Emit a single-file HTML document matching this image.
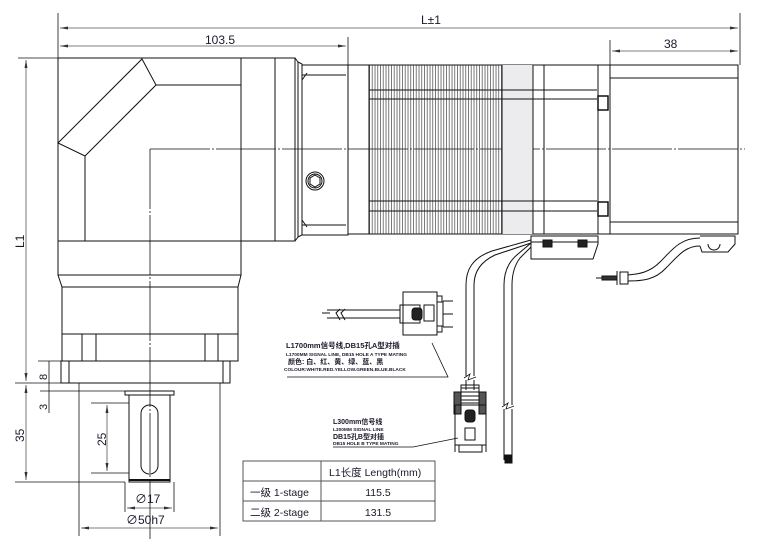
<!DOCTYPE html>
<html><head><meta charset="utf-8"><style>
html,body{margin:0;padding:0;background:#fff;}
svg{display:block;}
text{font-family:"Liberation Sans","Noto Sans CJK SC",sans-serif;fill:#1a1a2a;}
</style></head><body>
<svg width="759" height="550" viewBox="0 0 759 550" xmlns="http://www.w3.org/2000/svg">
<defs>
<pattern id="fins" x="369" y="0" width="2.75" height="10" patternUnits="userSpaceOnUse">
<line x1="0.5" y1="0" x2="0.5" y2="10" stroke="#222" stroke-width="0.6"/>
</pattern>
<marker id="ar" markerWidth="8" markerHeight="6" refX="8" refY="3" orient="auto" markerUnits="userSpaceOnUse"><path d="M0,1.5 L8,3 L0,4.5z" fill="#333"/></marker>
<marker id="al" markerWidth="8" markerHeight="6" refX="0" refY="3" orient="auto" markerUnits="userSpaceOnUse"><path d="M8,1.5 L0,3 L8,4.5z" fill="#333"/></marker>
</defs>
<g fill="none" stroke="#111" stroke-width="1">
<line x1="58" y1="13" x2="58" y2="58" stroke-width="0.8"/>
<line x1="740" y1="13" x2="740" y2="65" stroke-width="0.8"/>
<line x1="60" y1="28" x2="738" y2="28" stroke="#555" stroke-width="0.8" marker-start="url(#al)" marker-end="url(#ar)"/>
<line x1="348" y1="37" x2="348" y2="65" stroke-width="0.8"/>
<line x1="60" y1="46" x2="346" y2="46" stroke="#555" stroke-width="0.8" marker-start="url(#al)" marker-end="url(#ar)"/>
<line x1="610" y1="40" x2="610" y2="65" stroke-width="0.8"/>
<line x1="612" y1="51" x2="738" y2="51" stroke="#555" stroke-width="0.8" marker-start="url(#al)" marker-end="url(#ar)"/>
<line x1="18" y1="58" x2="58" y2="58" stroke-width="0.8"/>
<line x1="26" y1="60" x2="26" y2="381" stroke="#555" stroke-width="0.8" marker-start="url(#al)" marker-end="url(#ar)"/>
<line x1="15" y1="383" x2="62" y2="383" stroke-width="0.8"/>
<line x1="26" y1="385" x2="26" y2="480" stroke="#555" stroke-width="0.8" marker-start="url(#al)" marker-end="url(#ar)"/>
<line x1="15" y1="482" x2="125" y2="482" stroke-width="0.8"/>
<line x1="38" y1="361" x2="61" y2="361" stroke-width="0.8"/>
<line x1="49" y1="361" x2="49" y2="383" stroke-width="0.8"/>
<line x1="40" y1="391" x2="125" y2="391" stroke-width="0.8"/>
<line x1="49" y1="383" x2="49" y2="413" stroke-width="0.8"/>
<rect x="58" y="58" width="183" height="183"/>
<path d="M58,143 L142,59 L156,85 L85,156 Z" fill="#fff"/>
<line x1="156" y1="85" x2="241" y2="85"/>
<line x1="85" y1="156" x2="85" y2="241"/>
<rect x="241" y="58" width="54" height="183"/>
<line x1="275" y1="58" x2="275" y2="241"/>
<path d="M295,58 L298,62 L298,237 L295,241"/>
<path d="M298,62 L302,64 L302,235 L298,237"/>
<rect x="302" y="65" width="46" height="170"/>
<line x1="302" y1="75" x2="346" y2="75"/>
<line x1="302" y1="225" x2="346" y2="225"/>
<path d="M302,80 L307,73 M302,220 L307,227"/>
<circle cx="315" cy="181" r="9"/><circle cx="315" cy="181" r="7"/>
<path d="M315,175 L320,178 L320,184 L315,187 L310,184 L310,178Z"/>
<rect x="58" y="241" width="183" height="34"/>
<path d="M58,275 L62,287 L238,287 L241,275"/>
<rect x="62" y="287" width="176" height="74"/>
<line x1="62" y1="334" x2="238" y2="334"/>
<line x1="82" y1="334" x2="82" y2="361"/><line x1="96" y1="334" x2="96" y2="361"/>
<line x1="205" y1="334" x2="205" y2="361"/><line x1="218" y1="334" x2="218" y2="361"/>
<rect x="61" y="361" width="169" height="22"/>
<line x1="69" y1="361" x2="69" y2="383"/><line x1="223" y1="361" x2="223" y2="383"/>
<line x1="79" y1="383" x2="79" y2="536" stroke-width="0.8"/>
<line x1="220" y1="383" x2="220" y2="536" stroke-width="0.8"/>
<rect x="125" y="391" width="49" height="4"/>
<rect x="129" y="395" width="41" height="87"/>
<line x1="129" y1="480" x2="170" y2="480" stroke-width="2"/>
<rect x="141" y="405" width="17" height="69" rx="8.5"/>
<line x1="91" y1="403" x2="129" y2="403" stroke-width="0.8"/>
<line x1="91" y1="473" x2="129" y2="473" stroke-width="0.8"/>
<line x1="107" y1="405" x2="107" y2="471" stroke="#555" stroke-width="0.8" marker-start="url(#al)" marker-end="url(#ar)"/>
<line x1="125" y1="482" x2="125" y2="512" stroke-width="0.8"/>
<line x1="174" y1="482" x2="174" y2="512" stroke-width="0.8"/>
<line x1="127" y1="508" x2="172" y2="508" stroke="#555" stroke-width="0.8" marker-start="url(#al)" marker-end="url(#ar)"/>
<line x1="81" y1="528" x2="218" y2="528" stroke="#555" stroke-width="0.8" marker-start="url(#al)" marker-end="url(#ar)"/>
<line x1="150" y1="149" x2="150" y2="540" stroke-width="0.8" stroke-dasharray="60,2,2,2"/>
<line x1="150" y1="149" x2="745" y2="149" stroke-width="0.8" stroke-dasharray="60,2,2,2"/>
<rect x="348" y="65" width="250" height="169"/>
<rect x="369" y="65" width="133" height="169" fill="url(#fins)" stroke="none"/>
<rect x="502" y="65" width="31" height="169" fill="#ececee" stroke="none"/>
<line x1="369" y1="65" x2="369" y2="234"/>
<line x1="502" y1="65" x2="502" y2="234"/>
<line x1="533" y1="65" x2="533" y2="234"/>
<line x1="544" y1="65" x2="544" y2="234"/>
<path d="M369,90 L597,90 M369,99 L597,99 M369,201 L597,201 M369,211 L597,211"/>
<rect x="598" y="65" width="12" height="169"/>
<rect x="598" y="96" width="10" height="14" fill="#fff" stroke-width="1.5"/>
<rect x="598" y="202" width="10" height="14" fill="#fff" stroke-width="1.5"/>
<rect x="610" y="65" width="128" height="169"/>
<line x1="610" y1="78" x2="738" y2="78"/>
<line x1="610" y1="222" x2="738" y2="222"/>
<path d="M531,236 L598,236 L598,244 L593,259 L531,259 Z"/>
<line x1="531" y1="242" x2="598" y2="242"/>
<rect x="543" y="240" width="9" height="7" fill="#222"/>
<rect x="578" y="240" width="9" height="7" fill="#222"/>
<path d="M531,240 L492,251 C472,258 466,270 466,285 L466,376"/>
<path d="M531,243 L495,255 C480,262 474,272 474,285 L474,376"/>
<path d="M531,243 L518,254 C508,262 504,272 504,285 L504,405"/>
<path d="M531,247 L520,258 C514,266 512,275 512,285 L512,405"/>
<path d="M466,380 L466,390 M474,380 L474,390"/>
<path d="M464,378 L470,374 L468,380 L476,377" stroke-width="0.8"/>
<path d="M504,409 L504,460 M512,409 L512,460"/>
<path d="M502,407 L508,403 L506,409 L514,406" stroke-width="0.8"/>
<rect x="505" y="455" width="7" height="8" fill="#111"/>
<path d="M700,236 L735,236 L735,244 L728,252 L702,252 L700,246"/>
<path d="M708,244 A6,6 0 0 0 720,244"/>
<path d="M700,238 C680,238 672,250 660,262 C650,272 640,274 628,275"/>
<path d="M700,246 C685,246 678,256 666,268 C655,280 642,281 628,281"/>
<rect x="620" y="272" width="8" height="12"/>
<line x1="617" y1="271" x2="617" y2="285"/>
<rect x="602" y="276" width="15" height="4" fill="#333"/>
<line x1="596" y1="278" x2="602" y2="278"/>
<path d="M327,310 L400,310 M327,318 L400,318 M322,313 L330,313" />
<path d="M340,309 L336,313 L340,320 M345,309 L341,313 L345,320"/>
<rect x="403" y="292" width="34" height="43"/>
<rect x="400" y="305" width="20" height="18"/>
<rect x="412" y="308" width="10" height="12" rx="3" fill="#222"/>
<rect x="424" y="305" width="10" height="16"/>
<rect x="437" y="302" width="6" height="24"/>
<path d="M437,296 L442,296 L442,302 M437,332 L442,332 L442,326 M443,301 L453,301 M443,327 L453,327 M443,314 L453,314"/>
<rect x="461" y="385" width="18" height="18"/>
<rect x="454" y="392" width="7" height="22" fill="#555"/>
<rect x="479" y="392" width="7" height="22" fill="#555"/>
<rect x="455" y="405" width="31" height="40"/>
<rect x="465" y="410" width="10" height="12" rx="3" fill="#222"/>
<rect x="465" y="428" width="10" height="12"/>
<rect x="459" y="445" width="23" height="7"/>
<path d="M455,445 L455,452 M486,445 L486,452"/>
<path d="M461,388 L479,388 M461,392 L479,392 M461,396 L479,396 M461,400 L479,400"/>
<path d="M287,377 L448,377 L432,343" stroke-width="0.8"/>
<path d="M333,447 L413,447 L458,438" stroke-width="0.8"/>
<rect x="243" y="461" width="192" height="60" stroke="#555"/>
<line x1="321" y1="461" x2="321" y2="521" stroke="#555"/>
<line x1="243" y1="481" x2="435" y2="481" stroke="#555"/>
<line x1="243" y1="501" x2="435" y2="501" stroke="#555"/>
</g>
<g font-size="12">
<text x="421" y="24" font-size="12">L±1</text>
<text x="205" y="44">103.5</text>
<text x="664" y="48">38</text>
<text transform="translate(24,248) rotate(-90)">L1</text>
<text transform="translate(24,442) rotate(-90)">35</text>
<text transform="translate(106,446) rotate(-90)">25</text>
<text transform="translate(47,380) rotate(-90)" font-size="11">8</text>
<text transform="translate(47,410) rotate(-90)" font-size="11">3</text>
<text x="135" y="503">∅17</text>
<text x="126" y="524">∅50h7</text>
<text x="329" y="476" font-size="10.5">L1长度 Length(mm)</text>
<text x="250" y="496" font-size="10.5">一级 1-stage</text>
<text x="250" y="516" font-size="10.5">二级 2-stage</text>
<text x="378" y="496" text-anchor="middle" font-size="10.5">115.5</text>
<text x="378" y="516" text-anchor="middle" font-size="10.5">131.5</text>
</g>
<g font-weight="bold">
<text x="286" y="348" font-size="7.5">L1700mm信号线,DB15孔A型对插</text>
<text x="286" y="356" font-size="4.8">L1700MM SIGNAL LINE, DB15 HOLE A TYPE MATING</text>
<text x="288" y="364" font-size="7">颜色: 白、红、黄、绿、蓝、黑</text>
<text x="284" y="371" font-size="4.8">COLOUR:WHITE.RED.YELLOW.GREEN.BLUE.BLACK</text>
<text x="333" y="424" font-size="7">L300mm信号线</text>
<text x="333" y="431" font-size="4.8">L300MM SIGNAL LINE</text>
<text x="333" y="439" font-size="7">DB15孔B型对插</text>
<text x="333" y="445" font-size="4.8">DB15 HOLE B TYPE MATING</text>
</g>
</svg>
</body></html>
